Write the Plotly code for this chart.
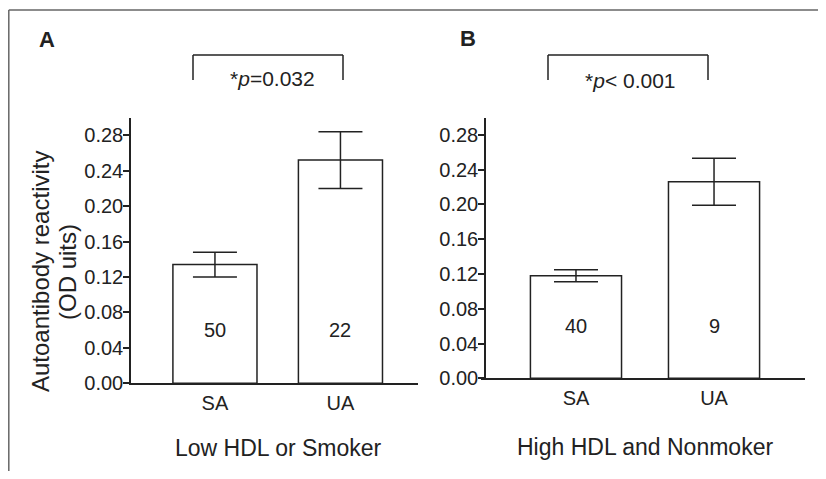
import plotly.graph_objects as go

# ---- data ----
categories = ["SA", "UA"]
panel_a_means = [0.134, 0.252]
panel_a_errors = [0.014, 0.032]
panel_a_counts = ["50", "22"]
panel_b_means = [0.118, 0.226]
panel_b_errors = [0.007, 0.027]
panel_b_counts = ["40", "9"]
tick_values = [0.00, 0.04, 0.08, 0.12, 0.16, 0.20, 0.24, 0.28]
tick_labels = ["0.00", "0.04", "0.08", "0.12", "0.16", "0.20", "0.24", "0.28"]
panel_a_title = "Low HDL or Smoker"
panel_b_title = "High HDL and Nonmoker"
panel_a_p = "*<i>p</i>=0.032"
panel_b_p = "*<i>p</i>< 0.001"
y_title_lines = ["Autoantibody reactivity", "(OD uits)"]

# figure sized to fit inside the 826x479 window with the page's 8px body margin
W, H = 810, 463
OFF = 8
FONT = "Arial, Liberation Sans, sans-serif"
INK = "#222222"


def px_x(p):
    return (p - OFF) / W


def px_y(p):
    return 1 - (p - OFF) / H


fig = go.Figure()

for means, errs, xa, ya, width in [
    (panel_a_means, panel_a_errors, "x", "y", 0.67),
    (panel_b_means, panel_b_errors, "x2", "y2", 0.66),
]:
    fig.add_trace(go.Bar(
        x=categories, y=means, xaxis=xa, yaxis=ya, width=width,
        marker=dict(color="white", line=dict(color=INK, width=1.5)),
        error_y=dict(type="data", array=errs, visible=True,
                     color=INK, thickness=1.5, width=22),
        showlegend=False, hoverinfo="x+y",
    ))

annotations = []
for counts, xa, ya in [(panel_a_counts, "x", "y"), (panel_b_counts, "x2", "y2")]:
    for c, n in zip(categories, counts):
        annotations.append(dict(x=c, y=0.06, xref=xa, yref=ya, text=n,
                                showarrow=False,
                                font=dict(family=FONT, size=20, color=INK)))

yaxis_common = dict(
    range=[0, 0.3], tickmode="array", tickvals=tick_values, ticktext=tick_labels,
    showline=True, linecolor=INK, linewidth=1.5, ticks="outside", ticklen=6,
    tickwidth=1.5, tickcolor=INK, showgrid=False, zeroline=False,
    tickfont=dict(family=FONT, size=20, color=INK), fixedrange=True,
    ticklabelstandoff=-4, automargin=False,
)
xaxis_common = dict(
    type="category", showline=True, linecolor=INK, linewidth=1.5,
    ticks="", showgrid=False, zeroline=False,
    tickfont=dict(family=FONT, size=20, color=INK), fixedrange=True,
    ticklabelstandoff=1, automargin=False,
)

fig.update_layout(
    width=W, height=H,
    margin=dict(l=0, r=0, t=0, b=0),
    paper_bgcolor="white", plot_bgcolor="white",
    xaxis=dict(xaxis_common, domain=[px_x(131), px_x(418)], range=[-0.669, 1.618], anchor="y"),
    yaxis=dict(yaxis_common, domain=[px_y(383.3), px_y(117.5)], anchor="x"),
    xaxis2=dict(xaxis_common, domain=[px_x(481), px_x(805)], range=[-0.688, 1.659], anchor="y2"),
    yaxis2=dict(yaxis_common, domain=[px_y(378.3), px_y(117.5)],
                anchor="free", position=px_x(485)),
)


def ann(x, y, text, size, **kw):
    d = dict(x=px_x(x), y=px_y(y), xref="paper", yref="paper", text=text,
             showarrow=False, font=dict(family=FONT, size=size, color=INK),
             xanchor="center", yanchor="middle")
    d.update(kw)
    annotations.append(d)


ann(47, 40, "<b>A</b>", 22)
ann(468, 38, "<b>B</b>", 22)
ann(272, 78, panel_a_p, 21)
ann(630, 80, panel_b_p, 21)
ann(278, 448, panel_a_title, 23)
ann(645, 447, panel_b_title, 23)
ann(40, 272, y_title_lines[0], 24, textangle=-90)
ann(67, 272, y_title_lines[1], 24, textangle=-90)

fig.update_layout(annotations=annotations)

shapes = []


def line(x0, y0, x1, y1, color=INK, w=1.5):
    shapes.append(dict(type="line", xref="paper", yref="paper",
                       x0=px_x(x0), y0=px_y(y0), x1=px_x(x1), y1=px_y(y1),
                       line=dict(color=color, width=w)))


for (l, r) in [(193, 343), (548, 708)]:
    line(l, 80, l, 55)
    line(l, 55, r, 55)
    line(r, 55, r, 80)

line(8.8, 10, 830, 10, color="#666666", w=1.5)
line(8.8, 10, 8.8, 480, color="#666666", w=1.5)
fig.update_layout(shapes=shapes)

fig.write_html("out.html")
